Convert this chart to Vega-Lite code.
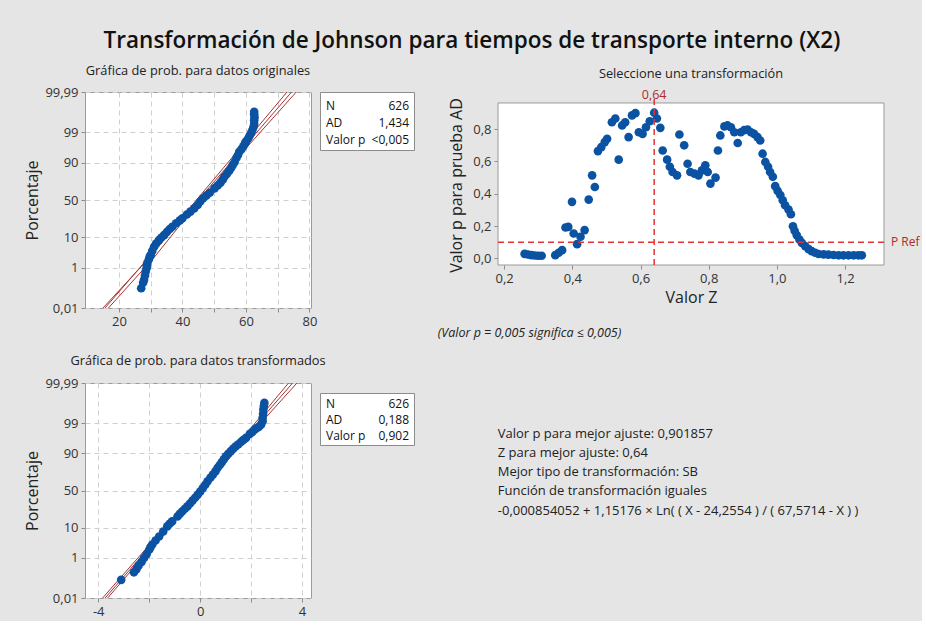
{
  "$schema": "https://vega.github.io/schema/vega-lite/v6.json",
  "background": "#e5e5e5",
  "padding": {"left": 24, "top": 30, "right": 2, "bottom": 2},
  "title": {
    "text": "Transformación de Johnson para tiempos de transporte interno (X2)",
    "font": "Open Sans",
    "fontSize": 22.5,
    "fontWeight": 600,
    "color": "#111111",
    "anchor": "middle",
    "offset": 12
  },
  "datasets": {
    "original": [
      {"valor": 27.0, "z": -3.04}, {"valor": 27.6, "z": -2.85}, {"valor": 27.9, "z": -2.75},
      {"valor": 28.2, "z": -2.6}, {"valor": 28.4, "z": -2.47}, {"valor": 28.7, "z": -2.35},
      {"valor": 28.8, "z": -2.25}, {"valor": 28.9, "z": -2.18}, {"valor": 29.4, "z": -2.05},
      {"valor": 29.7, "z": -1.95}, {"valor": 30.0, "z": -1.89}, {"valor": 30.5, "z": -1.75},
      {"valor": 31.05, "z": -1.61}, {"valor": 31.7, "z": -1.5}, {"valor": 32.6, "z": -1.38},
      {"valor": 33.3, "z": -1.3}, {"valor": 34.2, "z": -1.21}, {"valor": 35.1, "z": -1.1},
      {"valor": 36.0, "z": -1.0}, {"valor": 36.8, "z": -0.92}, {"valor": 38.0, "z": -0.8},
      {"valor": 39.2, "z": -0.7}, {"valor": 40.0, "z": -0.63}, {"valor": 41.4, "z": -0.5},
      {"valor": 42.5, "z": -0.4}, {"valor": 43.7, "z": -0.29}, {"valor": 44.8, "z": -0.17},
      {"valor": 45.6, "z": -0.05}, {"valor": 46.5, "z": 0.06}, {"valor": 47.5, "z": 0.15},
      {"valor": 48.6, "z": 0.25}, {"valor": 50.1, "z": 0.4}, {"valor": 51.1, "z": 0.5},
      {"valor": 52.0, "z": 0.6}, {"valor": 52.7, "z": 0.7}, {"valor": 53.2, "z": 0.8},
      {"valor": 54.0, "z": 0.9}, {"valor": 54.7, "z": 1.0}, {"valor": 55.3, "z": 1.1},
      {"valor": 55.8, "z": 1.2}, {"valor": 56.4, "z": 1.3}, {"valor": 57.0, "z": 1.45},
      {"valor": 57.5, "z": 1.55}, {"valor": 57.9, "z": 1.66}, {"valor": 58.6, "z": 1.75},
      {"valor": 59.2, "z": 1.85}, {"valor": 59.7, "z": 1.95}, {"valor": 60.0, "z": 2.01},
      {"valor": 60.6, "z": 2.1}, {"valor": 61.1, "z": 2.2}, {"valor": 61.6, "z": 2.3},
      {"valor": 62.0, "z": 2.4}, {"valor": 62.4, "z": 2.52}, {"valor": 62.6, "z": 2.62},
      {"valor": 62.6, "z": 2.75}, {"valor": 62.7, "z": 2.85}, {"valor": 62.6, "z": 2.95},
      {"valor": 62.6, "z": 3.04}
    ],
    "ajuste_original": [
      {"curva": "centro", "valor": 11.8, "z": -4.2}, {"curva": "centro", "valor": 78.2, "z": 4.2},
      {"curva": "inferior", "valor": 10.9, "z": -4.2}, {"curva": "inferior", "valor": 29.5, "z": -2.0},
      {"curva": "inferior", "valor": 44.4, "z": 0}, {"curva": "inferior", "valor": 59.8, "z": 2.0},
      {"curva": "inferior", "valor": 76.6, "z": 4.2},
      {"curva": "superior", "valor": 12.7, "z": -4.2}, {"curva": "superior", "valor": 30.9, "z": -2.0},
      {"curva": "superior", "valor": 45.6, "z": 0}, {"curva": "superior", "valor": 61.8, "z": 2.0},
      {"curva": "superior", "valor": 79.8, "z": 4.2}
    ],
    "transformado": [
      {"valor": -3.1, "z": -3.09}, {"valor": -2.6, "z": -2.83}, {"valor": -2.5, "z": -2.72},
      {"valor": -2.42, "z": -2.6}, {"valor": -2.3, "z": -2.47}, {"valor": -2.2, "z": -2.33},
      {"valor": -2.1, "z": -2.2}, {"valor": -2.0, "z": -2.05}, {"valor": -1.95, "z": -1.96},
      {"valor": -1.88, "z": -1.87}, {"valor": -1.75, "z": -1.73}, {"valor": -1.61, "z": -1.59},
      {"valor": -1.45, "z": -1.42}, {"valor": -1.29, "z": -1.24}, {"valor": -1.2, "z": -1.15},
      {"valor": -1.1, "z": -1.07}, {"valor": -0.89, "z": -0.9}, {"valor": -0.8, "z": -0.81},
      {"valor": -0.7, "z": -0.72}, {"valor": -0.6, "z": -0.63}, {"valor": -0.5, "z": -0.55},
      {"valor": -0.4, "z": -0.45}, {"valor": -0.3, "z": -0.35}, {"valor": -0.2, "z": -0.25},
      {"valor": -0.1, "z": -0.15}, {"valor": 0.0, "z": -0.04}, {"valor": 0.1, "z": 0.08},
      {"valor": 0.2, "z": 0.2}, {"valor": 0.29, "z": 0.32}, {"valor": 0.4, "z": 0.44},
      {"valor": 0.5, "z": 0.55}, {"valor": 0.6, "z": 0.66}, {"valor": 0.68, "z": 0.78},
      {"valor": 0.77, "z": 0.88}, {"valor": 0.85, "z": 0.98}, {"valor": 0.93, "z": 1.08},
      {"valor": 1.01, "z": 1.18}, {"valor": 1.1, "z": 1.27}, {"valor": 1.2, "z": 1.36},
      {"valor": 1.3, "z": 1.45}, {"valor": 1.4, "z": 1.53}, {"valor": 1.5, "z": 1.6},
      {"valor": 1.6, "z": 1.68}, {"valor": 1.7, "z": 1.75}, {"valor": 1.8, "z": 1.82},
      {"valor": 1.95, "z": 1.96}, {"valor": 2.05, "z": 2.03}, {"valor": 2.13, "z": 2.1},
      {"valor": 2.2, "z": 2.15}, {"valor": 2.3, "z": 2.2}, {"valor": 2.39, "z": 2.28},
      {"valor": 2.45, "z": 2.4}, {"valor": 2.45, "z": 2.51}, {"valor": 2.47, "z": 2.65},
      {"valor": 2.48, "z": 2.8}, {"valor": 2.5, "z": 2.92}, {"valor": 2.52, "z": 3.03}
    ],
    "ajuste_transformado": [
      {"curva": "centro", "valor": -4.65, "z": -4.65}, {"curva": "centro", "valor": 4.55, "z": 4.65},
      {"curva": "inferior", "valor": -4.76, "z": -4.65}, {"curva": "inferior", "valor": -2.11, "z": -2.0},
      {"curva": "inferior", "valor": -0.11, "z": 0}, {"curva": "inferior", "valor": 1.84, "z": 2.0},
      {"curva": "inferior", "valor": 4.35, "z": 4.65},
      {"curva": "superior", "valor": -4.54, "z": -4.65}, {"curva": "superior", "valor": -1.95, "z": -2.0},
      {"curva": "superior", "valor": 0.01, "z": 0}, {"curva": "superior", "valor": 2.04, "z": 2.0},
      {"curva": "superior", "valor": 4.75, "z": 4.65}
    ],
    "seleccion": [
      {"z": 0.26, "p": 0.028}, {"z": 0.27, "p": 0.024}, {"z": 0.28, "p": 0.02}, {"z": 0.29, "p": 0.018},
      {"z": 0.3, "p": 0.016}, {"z": 0.31, "p": 0.016}, {"z": 0.35, "p": 0.02}, {"z": 0.36, "p": 0.035},
      {"z": 0.37, "p": 0.051}, {"z": 0.38, "p": 0.191}, {"z": 0.388, "p": 0.195}, {"z": 0.399, "p": 0.35},
      {"z": 0.404, "p": 0.154}, {"z": 0.414, "p": 0.088}, {"z": 0.424, "p": 0.134}, {"z": 0.436, "p": 0.175},
      {"z": 0.448, "p": 0.364}, {"z": 0.458, "p": 0.514}, {"z": 0.466, "p": 0.442}, {"z": 0.475, "p": 0.664},
      {"z": 0.485, "p": 0.689}, {"z": 0.495, "p": 0.72}, {"z": 0.502, "p": 0.74}, {"z": 0.516, "p": 0.843},
      {"z": 0.526, "p": 0.866}, {"z": 0.536, "p": 0.611}, {"z": 0.546, "p": 0.823}, {"z": 0.555, "p": 0.843},
      {"z": 0.565, "p": 0.751}, {"z": 0.575, "p": 0.885}, {"z": 0.585, "p": 0.899}, {"z": 0.595, "p": 0.781},
      {"z": 0.606, "p": 0.771}, {"z": 0.616, "p": 0.812}, {"z": 0.627, "p": 0.849}, {"z": 0.64, "p": 0.901857},
      {"z": 0.648, "p": 0.866}, {"z": 0.658, "p": 0.808}, {"z": 0.665, "p": 0.668}, {"z": 0.678, "p": 0.611},
      {"z": 0.686, "p": 0.567}, {"z": 0.694, "p": 0.535}, {"z": 0.707, "p": 0.514}, {"z": 0.714, "p": 0.767},
      {"z": 0.728, "p": 0.7}, {"z": 0.738, "p": 0.586}, {"z": 0.746, "p": 0.535}, {"z": 0.758, "p": 0.525},
      {"z": 0.77, "p": 0.514}, {"z": 0.78, "p": 0.545}, {"z": 0.79, "p": 0.576}, {"z": 0.797, "p": 0.535},
      {"z": 0.805, "p": 0.463}, {"z": 0.82, "p": 0.5}, {"z": 0.827, "p": 0.668}, {"z": 0.834, "p": 0.761},
      {"z": 0.846, "p": 0.817}, {"z": 0.855, "p": 0.823}, {"z": 0.865, "p": 0.812}, {"z": 0.875, "p": 0.781},
      {"z": 0.885, "p": 0.714}, {"z": 0.894, "p": 0.781}, {"z": 0.904, "p": 0.794}, {"z": 0.914, "p": 0.798},
      {"z": 0.924, "p": 0.781}, {"z": 0.933, "p": 0.771}, {"z": 0.943, "p": 0.751}, {"z": 0.951, "p": 0.73},
      {"z": 0.958, "p": 0.648}, {"z": 0.966, "p": 0.597}, {"z": 0.974, "p": 0.567}, {"z": 0.98, "p": 0.535},
      {"z": 0.988, "p": 0.505}, {"z": 0.995, "p": 0.447}, {"z": 1.002, "p": 0.418}, {"z": 1.01, "p": 0.392},
      {"z": 1.017, "p": 0.36}, {"z": 1.024, "p": 0.329}, {"z": 1.034, "p": 0.302}, {"z": 1.041, "p": 0.273},
      {"z": 1.047, "p": 0.199}, {"z": 1.052, "p": 0.171}, {"z": 1.058, "p": 0.144}, {"z": 1.066, "p": 0.117},
      {"z": 1.073, "p": 0.096}, {"z": 1.083, "p": 0.076}, {"z": 1.093, "p": 0.057}, {"z": 1.102, "p": 0.045},
      {"z": 1.112, "p": 0.035}, {"z": 1.122, "p": 0.027}, {"z": 1.137, "p": 0.025}, {"z": 1.151, "p": 0.023},
      {"z": 1.166, "p": 0.021}, {"z": 1.181, "p": 0.019}, {"z": 1.195, "p": 0.019}, {"z": 1.21, "p": 0.019},
      {"z": 1.225, "p": 0.019}, {"z": 1.239, "p": 0.019}, {"z": 1.249, "p": 0.019}
    ],
    "resumen_original": [
      {"estadistico": "N", "valor": "626"},
      {"estadistico": "AD", "valor": "1,434"},
      {"estadistico": "Valor p", "valor": "<0,005"}
    ],
    "resumen_transformado": [
      {"estadistico": "N", "valor": "626"},
      {"estadistico": "AD", "valor": "0,188"},
      {"estadistico": "Valor p", "valor": "0,902"}
    ]
  },
  "spacing": 22,
  "hconcat": [
    {
      "spacing": 25,
      "vconcat": [
        {
          "bounds": "flush",
          "spacing": 9,
          "hconcat": [
            {
              "width": 226,
              "height": 216,
              "title": {"text": "Gráfica de prob. para datos originales", "frame": "group", "offset": 8},
              "layer": [
                {
                  "data": {"name": "ajuste_original"},
                  "mark": {"type": "line", "color": "#a83232", "strokeWidth": 1, "clip": true},
                  "encoding": {
                    "x": {
                      "field": "valor", "type": "quantitative",
                      "scale": {"domain": [9.3, 80.5], "nice": false, "zero": false},
                      "axis": {"values": [20, 30, 40, 50, 60, 70, 80], "format": "d", "labelExpr": "datum.value % 20 == 0 ? datum.label : ''", "title": null}
                    },
                    "y": {
                      "field": "z", "type": "quantitative",
                      "scale": {"domain": [-3.719, 3.719], "nice": false, "zero": false},
                      "axis": {
                        "values": [-3.719, -2.3263, -1.2816, 0, 1.2816, 2.3263, 3.719],
                        "labelExpr": "datum.value > 3 ? '99,99' : datum.value > 2 ? '99' : datum.value > 1 ? '90' : datum.value > -1 ? '50' : datum.value > -2 ? '10' : datum.value > -3 ? '1' : '0,01'",
                        "title": "Porcentaje"
                      }
                    },
                    "detail": {"field": "curva"}
                  }
                },
                {
                  "data": {"name": "original"},
                  "mark": {"type": "circle", "size": 75, "color": "#0b53a2", "opacity": 1},
                  "encoding": {
                    "x": {"field": "valor", "type": "quantitative"},
                    "y": {"field": "z", "type": "quantitative"}
                  }
                }
              ]
            },
            {
              "width": 94,
              "height": 58,
              "data": {"name": "resumen_original"},
              "view": {"fill": "white", "stroke": "#8c8c8c"},
              "encoding": {
                "y": {"field": "estadistico", "type": "nominal", "sort": ["N", "AD", "Valor p"], "axis": null, "scale": {"type": "point", "padding": 0.7}}
              },
              "layer": [
                {
                  "mark": {"type": "text", "align": "left", "baseline": "middle", "fontSize": 12, "dx": 6, "dy": 2, "color": "#111111"},
                  "encoding": {"x": {"datum": 0, "type": "quantitative", "scale": {"domain": [0, 1], "nice": false}, "axis": null}, "text": {"field": "estadistico"}}
                },
                {
                  "mark": {"type": "text", "align": "right", "baseline": "middle", "fontSize": 12, "dx": -5, "dy": 2, "color": "#111111"},
                  "encoding": {"x": {"datum": 1, "type": "quantitative"}, "text": {"field": "valor"}}
                }
              ]
            }
          ]
        },
        {
          "bounds": "flush",
          "spacing": 9,
          "hconcat": [
            {
              "width": 226,
              "height": 215,
              "title": {"text": "Gráfica de prob. para datos transformados", "frame": "group", "offset": 9},
              "layer": [
                {
                  "data": {"name": "ajuste_transformado"},
                  "mark": {"type": "line", "color": "#a83232", "strokeWidth": 1, "clip": true},
                  "encoding": {
                    "x": {
                      "field": "valor", "type": "quantitative",
                      "scale": {"domain": [-4.52, 4.35], "nice": false, "zero": false},
                      "axis": {"values": [-4, -2, 0, 2, 4], "format": "d", "labelExpr": "datum.value % 4 == 0 ? replace(datum.label, '−', '-') : ''", "title": null}
                    },
                    "y": {
                      "field": "z", "type": "quantitative",
                      "scale": {"domain": [-3.719, 3.719], "nice": false, "zero": false},
                      "axis": {
                        "values": [-3.719, -2.3263, -1.2816, 0, 1.2816, 2.3263, 3.719],
                        "labelExpr": "datum.value > 3 ? '99,99' : datum.value > 2 ? '99' : datum.value > 1 ? '90' : datum.value > -1 ? '50' : datum.value > -2 ? '10' : datum.value > -3 ? '1' : '0,01'",
                        "title": "Porcentaje"
                      }
                    },
                    "detail": {"field": "curva"}
                  }
                },
                {
                  "data": {"name": "transformado"},
                  "mark": {"type": "circle", "size": 75, "color": "#0b53a2", "opacity": 1},
                  "encoding": {
                    "x": {"field": "valor", "type": "quantitative"},
                    "y": {"field": "z", "type": "quantitative"}
                  }
                }
              ]
            },
            {
              "spacing": 0,
              "vconcat": [
                {
                  "width": 94,
                  "height": 9,
                  "data": {"values": []},
                  "view": {"fill": null, "stroke": null},
                  "mark": "point"
                },
                {
                  "width": 94,
                  "height": 52,
                  "data": {"name": "resumen_transformado"},
                  "view": {"fill": "white", "stroke": "#8c8c8c"},
                  "encoding": {
                    "y": {"field": "estadistico", "type": "nominal", "sort": ["N", "AD", "Valor p"], "axis": null, "scale": {"type": "point", "padding": 0.62}}
                  },
                  "layer": [
                    {
                      "mark": {"type": "text", "align": "left", "baseline": "middle", "fontSize": 12, "dx": 6, "dy": 1, "color": "#111111"},
                      "encoding": {"x": {"datum": 0, "type": "quantitative", "scale": {"domain": [0, 1], "nice": false}, "axis": null}, "text": {"field": "estadistico"}}
                    },
                    {
                      "mark": {"type": "text", "align": "right", "baseline": "middle", "fontSize": 12, "dx": -5, "dy": 1, "color": "#111111"},
                      "encoding": {"x": {"datum": 1, "type": "quantitative"}, "text": {"field": "valor"}}
                    }
                  ]
                }
              ]
            }
          ]
        }
      ]
    },
    {
      "title": {
        "text": [
          "Valor p para mejor ajuste: 0,901857",
          "Z para mejor ajuste: 0,64",
          "Mejor tipo de transformación: SB",
          "Función de transformación iguales",
          "-0,000854052 + 1,15176 × Ln( ( X - 24,2554 ) / ( 67,5714 - X ) )"
        ],
        "orient": "bottom",
        "anchor": "start",
        "frame": "bounds",
        "fontSize": 13,
        "lineHeight": 19.3,
        "offset": 88,
        "dx": 60
      },
      "vconcat": [
        {
          "title": {
            "text": "(Valor p = 0,005 significa ≤ 0,005)",
            "orient": "bottom",
            "anchor": "start",
            "frame": "bounds",
            "fontStyle": "italic",
            "fontSize": 12.5,
            "offset": 22,
            "dx": -11
          },
          "vconcat": [
            {
              "width": 386,
              "height": 173,
              "view": {"fill": null, "stroke": null},
              "title": {"text": "Seleccione una transformación", "frame": "group", "offset": 8},
              "layer": [
                {
                  "data": {"values": [{}]},
                  "mark": {"type": "rect", "fill": "white", "stroke": "#9a9a9a", "strokeWidth": 1},
                  "encoding": {
                    "x": {"datum": 0.182, "type": "quantitative"},
                    "x2": {"datum": 1.314},
                    "y": {"datum": -0.041, "type": "quantitative"},
                    "y2": {"datum": 0.962}
                  }
                },
                {
                  "data": {"name": "seleccion"},
                  "mark": {"type": "circle", "size": 75, "color": "#0b53a2", "opacity": 1},
                  "encoding": {
                    "x": {
                      "field": "z", "type": "quantitative",
                      "scale": {"domain": [0.182, 1.314], "nice": false, "zero": false},
                      "axis": {"values": [0.2, 0.4, 0.6, 0.8, 1.0, 1.2], "format": ".1f", "labelExpr": "replace(datum.label, '.', ',')", "title": "Valor Z", "grid": false, "titleFontSize": 16}
                    },
                    "y": {
                      "field": "p", "type": "quantitative",
                      "scale": {"domain": [-0.041, 1.03], "nice": false, "zero": false},
                      "axis": {"values": [0, 0.2, 0.4, 0.6, 0.8], "format": ".1f", "labelExpr": "replace(datum.label, '.', ',')", "title": "Valor p para prueba AD", "grid": false, "titlePadding": 8, "titleY": 93}
                    }
                  }
                },
                {
                  "data": {"values": [{"z": 0.64, "etiqueta": "0,64"}]},
                  "layer": [
                    {
                      "mark": {"type": "rule", "color": "#e03434", "strokeWidth": 1.5, "strokeDash": [6, 4]},
                      "encoding": {"x": {"field": "z", "type": "quantitative"}, "y": {"datum": -0.041, "type": "quantitative"}, "y2": {"datum": 0.99}}
                    },
                    {
                      "mark": {"type": "text", "color": "#b02a2a", "fontSize": 12.5, "baseline": "middle"},
                      "encoding": {"x": {"field": "z", "type": "quantitative"}, "y": {"datum": 1.01, "type": "quantitative"}, "text": {"field": "etiqueta"}}
                    }
                  ]
                },
                {
                  "data": {"values": [{"p": 0.1, "etiqueta": "P Ref"}]},
                  "layer": [
                    {
                      "mark": {"type": "rule", "color": "#e03434", "strokeWidth": 1.5, "strokeDash": [6, 4]},
                      "encoding": {"y": {"field": "p", "type": "quantitative"}}
                    },
                    {
                      "mark": {"type": "text", "color": "#b02a2a", "fontSize": 12, "align": "left", "baseline": "middle", "dx": 7},
                      "encoding": {"y": {"field": "p", "type": "quantitative"}, "x": {"datum": 1.314, "type": "quantitative"}, "text": {"field": "etiqueta"}}
                    }
                  ]
                }
              ]
            }
          ]
        }
      ]
    }
  ],
  "config": {
    "font": "Open Sans",
    "locale": {"number": {"decimal": ",", "thousands": ".", "grouping": [3], "currency": ["", " €"], "minus": "-"}},
    "view": {"fill": "white", "stroke": "#9a9a9a", "strokeWidth": 1},
    "axis": {
      "domain": false,
      "tickColor": "#8c8c8c",
      "tickSize": 4,
      "tickCount": 20,
      "labelFont": "Open Sans",
      "labelFontSize": 13,
      "labelColor": "#333333",
      "labelPadding": 3,
      "labelOverlap": false,
      "titleFont": "Open Sans",
      "titleFontSize": 16,
      "titleFontWeight": "normal",
      "titleColor": "#222222",
      "titlePadding": 4,
      "grid": true,
      "gridColor": "#cfcfcf",
      "gridDash": [5, 4]
    },
    "title": {"font": "Open Sans", "fontSize": 12.8, "fontWeight": "normal", "color": "#222222"}
  }
}
